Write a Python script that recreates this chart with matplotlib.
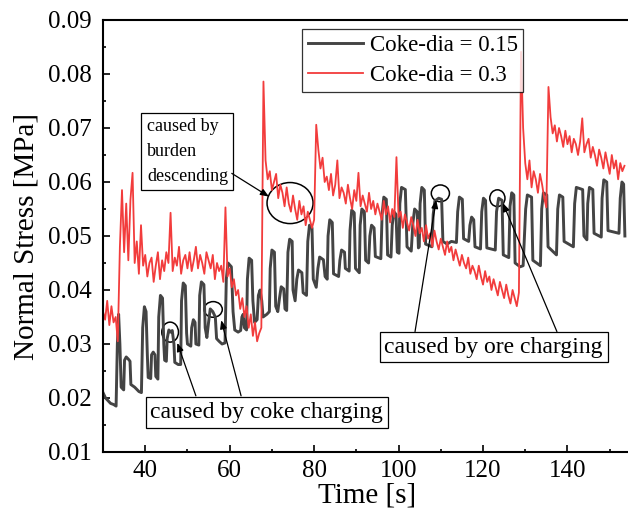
import matplotlib
matplotlib.use("Agg")
import matplotlib.pyplot as plt
import numpy as np
from matplotlib.patches import Ellipse
from matplotlib.ticker import MultipleLocator

plt.rcParams["font.family"] = ["Liberation Serif", "DejaVu Serif"]

# Coke-dia = 0.3 : sampled every 0.5 s starting at t = 30 s (one row = 5 s)
red_stress = [
    .0360, .0345, .0380, .0335, .0370, .0340, .0350, .0305, .0480, .0585,
    .0470, .0560, .0455, .0567, .0617, .0450, .0490, .0430, .0520, .0445,
    .0465, .0425, .0450, .0460, .0415, .0445, .0470, .0420, .0455, .0435,
    .0470, .0450, .0543, .0435, .0460, .0445, .0480, .0430, .0455, .0465,
    .0440, .0470, .0435, .0455, .0480, .0440, .0465, .0450, .0430, .0470,
    .0455, .0440, .0465, .0420, .0450, .0435, .0445, .0415, .0553, .0425,
    .0440, .0405, .0420, .0390, .0400, .0365, .0385, .0350, .0370, .0330,
    .0355, .0315, .0340, .0305, .0320, .0330, .0786, .0640, .0605, .0620,
    .0585, .0600, .0615, .0570, .0595, .0580, .0555, .0590, .0560, .0545,
    .0575, .0550, .0530, .0565, .0540, .0555, .0520, .0545, .0530, .0515,
    .0530, .0706, .0660, .0625, .0645, .0600, .0610, .0585, .0615, .0575,
    .0595, .0640, .0570, .0590, .0580, .0560, .0595, .0570, .0550, .0585,
    .0565, .0617, .0555, .0575, .0560, .0545, .0580, .0550, .0565, .0540,
    .0560, .0545, .0530, .0565, .0540, .0555, .0525, .0550, .0535, .0646,
    .0535, .0545, .0515, .0540, .0525, .0510, .0535, .0520, .0500, .0530,
    .0505, .0515, .0490, .0520, .0495, .0505, .0480, .0510, .0490, .0475,
    .0495, .0480, .0465, .0490, .0470, .0480, .0455, .0475, .0460, .0445,
    .0465, .0450, .0440, .0460, .0430, .0445, .0435, .0420, .0445, .0425,
    .0410, .0435, .0415, .0425, .0400, .0420, .0405, .0390, .0415, .0400,
    .0385, .0410, .0390, .0375, .0400, .0385, .0370, .0395, .0841, .0700,
    .0635, .0605, .0640, .0590, .0620, .0605, .0580, .0615, .0595, .0570,
    .0553, .0776, .0720, .0690, .0705, .0675, .0700, .0685, .0665, .0695,
    .0670, .0685, .0655, .0680, .0670, .0650, .0675, .0718, .0655, .0670,
    .0680, .0645, .0665, .0650, .0630, .0660, .0645, .0625, .0655, .0635,
    .0615, .0650, .0625, .0640, .0605, .0635, .0620, .0630,
]
red_time = 30 + 0.5 * np.arange(len(red_stress))

# Coke-dia = 0.15 : (time, stress) pairs
black_time = [
    30.0, 30.6, 31.2, 31.8, 32.5, 33.1, 33.4, 33.7, 34.0, 34.3, 34.9, 35.1,
    35.5, 36.0, 36.4, 36.6, 37.5, 38.5, 39.1, 39.4, 39.8, 40.2, 40.5, 40.7,
    41.3, 41.5, 41.9, 42.3, 42.5, 43.0, 43.2, 43.6, 44.1, 44.4, 44.6, 45.0,
    45.2, 45.6, 46.0, 46.4, 46.8, 47.0, 47.8, 48.4, 48.6, 49.0, 49.5, 49.8,
    50.0, 50.8, 51.0, 51.4, 51.8, 52.0, 52.7, 52.9, 53.3, 53.9, 54.2, 54.6,
    55.0, 55.4, 56.0, 56.6, 56.9, 57.5, 58.2, 58.9, 59.2, 59.6, 60.4, 60.8,
    61.2, 62.0, 62.6, 62.9, 63.2, 63.5, 64.0, 64.2, 64.6, 65.2, 65.5, 65.9,
    66.5, 66.8, 67.2, 67.6, 67.9, 68.8, 69.4, 69.6, 70.0, 70.6, 70.9, 71.4,
    71.8, 72.2, 72.8, 73.1, 73.5, 73.8, 74.2, 74.8, 75.0, 75.5, 75.9, 76.3,
    77.1, 77.4, 78.2, 78.5, 78.9, 79.5, 79.8, 80.5, 80.9, 81.3, 82.2, 82.6,
    83.1, 83.3, 83.7, 84.3, 84.6, 85.8, 86.1, 86.5, 87.2, 87.4, 88.3, 88.5,
    88.9, 89.5, 89.8, 90.7, 90.9, 91.3, 91.9, 92.2, 92.9, 93.2, 93.6, 94.2,
    94.5, 95.8, 96.1, 96.5, 97.1, 97.4, 98.2, 98.5, 98.9, 99.4, 99.7, 100.1,
    100.3, 100.7, 101.6, 102.0, 103.0, 103.4, 103.8, 104.4, 104.7, 104.9, 105.1, 105.5,
    106.1, 106.4, 107.9, 108.2, 108.6, 109.5, 110.2, 110.5, 111.5, 112.5, 113.7, 114.0,
    114.4, 115.1, 115.4, 116.6, 116.9, 117.3, 117.8, 118.1, 119.4, 119.7, 120.1, 120.6,
    120.9, 122.9, 123.2, 123.7, 124.5, 124.8, 126.1, 126.4, 126.8, 127.3, 127.6, 128.8,
    129.5, 130.1, 130.5, 131.5, 131.8, 133.6, 133.9, 134.3, 135.1, 135.4, 137.4, 137.7,
    138.1, 138.9, 139.2, 141.4, 141.7, 142.1, 143.6, 143.9, 144.6, 144.8, 145.2, 146.0,
    146.3, 148.0, 148.2, 148.6, 149.3, 149.6, 152.2, 152.5, 152.9, 153.3, 153.6,
]
black_stress = [
    .0210, .0200, .0195, .0190, .0188, .0185, .0300, .0355, .0300, .0220, .0215, .0270,
    .0276, .0272, .0268, .0225, .0220, .0212, .0210, .0330, .0369, .0360, .0280, .0238,
    .0236, .0280, .0285, .0280, .0240, .0235, .0350, .0390, .0385, .0300, .0270, .0268,
    .0310, .0326, .0322, .0325, .0300, .0266, .0262, .0262, .0380, .0413, .0408, .0320,
    .0300, .0296, .0330, .0345, .0340, .0300, .0298, .0390, .0415, .0410, .0330, .0312,
    .0340, .0365, .0360, .0350, .0310, .0305, .0300, .0302, .0420, .0450, .0443, .0360,
    .0326, .0322, .0325, .0350, .0355, .0330, .0326, .0420, .0459, .0455, .0380, .0340,
    .0345, .0390, .0400, .0380, .0350, .0355, .0360, .0440, .0474, .0470, .0370, .0360,
    .0385, .0406, .0402, .0365, .0362, .0470, .0494, .0490, .0400, .0380, .0420, .0437,
    .0432, .0395, .0390, .0490, .0520, .0515, .0420, .0405, .0440, .0461, .0456, .0425,
    .0420, .0500, .0530, .0525, .0430, .0425, .0455, .0474, .0470, .0440, .0435, .0510,
    .0548, .0543, .0440, .0432, .0520, .0550, .0545, .0455, .0450, .0500, .0520, .0515,
    .0462, .0458, .0540, .0572, .0568, .0465, .0461, .0520, .0545, .0540, .0470, .0468,
    .0560, .0590, .0586, .0480, .0472, .0525, .0550, .0545, .0478, .0480, .0560, .0590,
    .0585, .0485, .0480, .0540, .0565, .0570, .0568, .0490, .0485, .0490, .0488, .0545,
    .0572, .0568, .0495, .0490, .0520, .0535, .0530, .0480, .0476, .0545, .0570, .0566,
    .0478, .0474, .0545, .0570, .0566, .0465, .0460, .0555, .0580, .0576, .0450, .0443,
    .0445, .0550, .0576, .0572, .0455, .0445, .0550, .0580, .0576, .0480, .0465, .0550,
    .0576, .0572, .0490, .0480, .0560, .0590, .0586, .0500, .0493, .0560, .0590, .0586,
    .0505, .0498, .0570, .0604, .0600, .0510, .0505, .0570, .0600, .0596, .0500,
]

series_labels = ["Coke-dia = 0.15", "Coke-dia = 0.3"]
x_ticks = [40, 60, 80, 100, 120, 140]
y_ticks = [0.01, 0.02, 0.03, 0.04, 0.05, 0.06, 0.07, 0.08, 0.09]

fig = plt.figure(figsize=(6.28, 5.18), dpi=100)
ax = fig.add_axes([103 / 628, 66 / 518, 527.8 / 628, 432 / 518])

ax.plot(black_time, black_stress, color="#444444", lw=2.1, label=series_labels[0])
ax.plot(red_time, red_stress, color="#f23c3c", lw=1.3, label=series_labels[1])

ax.set_xlim(30, 155)
ax.set_ylim(0.01, 0.09)
ax.set_xticks(x_ticks)
ax.set_yticks(y_ticks)
ax.xaxis.set_minor_locator(MultipleLocator(10))
ax.yaxis.set_minor_locator(MultipleLocator(0.005))
ax.tick_params(which="both", direction="in", width=1.2, labelsize=18)
ax.tick_params(which="major", length=5)
ax.tick_params(which="minor", length=2.5)
ax.tick_params(axis="x", pad=6)
ax.tick_params(axis="y", pad=8)
for s in ax.spines.values():
    s.set_linewidth(1.5)
ax.spines["right"].set_visible(False)

ax.set_xlabel("Time [s]", fontsize=21, labelpad=0)
ax.set_ylabel("Normal Stress [MPa]", fontsize=21, labelpad=6)

leg = ax.legend(loc="upper left", bbox_to_anchor=((302 - 103) / 527.8, (452 - 29) / 432),
                borderaxespad=0, fontsize=16.5, frameon=True, fancybox=False,
                edgecolor="black", borderpad=0.25, handlelength=2.4,
                handletextpad=0.3, labelspacing=0.4)
leg.get_frame().set_linewidth(0.9)

box = dict(boxstyle="square,pad=0.2", fc="white", ec="black", lw=0.9)
arrow = dict(arrowstyle="-|>,head_length=0.5,head_width=0.2", color="black", lw=0.9,
             shrinkA=0, shrinkB=0)

ax.text(40.4, 0.0657, "caused by\nburden\ndescending", fontsize=13,
        ha="left", va="center", linespacing=1.6, bbox=dict(box, boxstyle="square,pad=0.3"))
ax.text(68.8, 0.0173, "caused by coke charging", fontsize=17,
        ha="center", va="center", bbox=box)
ax.text(122.5, 0.0294, "caused by ore charging", fontsize=17,
        ha="center", va="center", bbox=box)

ax.annotate("", xy=(69.3, 0.0573), xytext=(60.5, 0.0616), arrowprops=arrow)
ax.annotate("", xy=(47.6, 0.0302), xytext=(52.0, 0.0204), arrowprops=arrow)
ax.annotate("", xy=(58.0, 0.0344), xytext=(62.7, 0.0204), arrowprops=arrow)
ax.annotate("", xy=(108.9, 0.0567), xytext=(103.9, 0.0323), arrowprops=arrow)
ax.annotate("", xy=(124.7, 0.0561), xytext=(137.5, 0.0323), arrowprops=arrow)

# circled regions: (centre x, centre y, width [s], height [MPa])
circles = [
    (74.3, 0.0561, 10.9, 0.0076),
    (45.9, 0.0322, 3.95, 0.0037),
    (56.1, 0.0364, 4.3, 0.0029),
    (109.9, 0.0579, 4.3, 0.0031),
    (123.4, 0.0570, 3.6, 0.0031),
]
for cx, cy, w, h in circles:
    ax.add_patch(Ellipse((cx, cy), w, h, fill=False, ec="black", lw=1.1))

fig.savefig("out.png", dpi=100)
